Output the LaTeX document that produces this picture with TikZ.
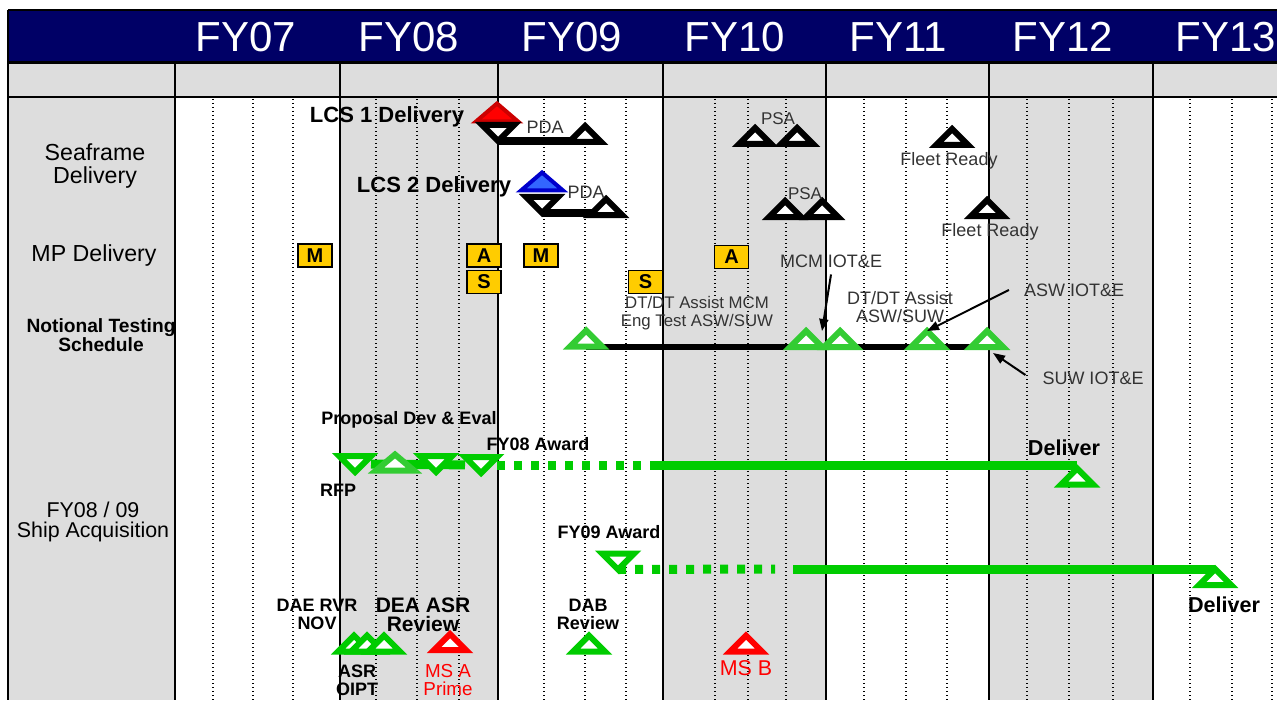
\documentclass[tikz,border=0pt]{standalone}
\usepackage{fontspec}
\setmainfont{Liberation Sans}
\usetikzlibrary{arrows.meta, backgrounds}
\definecolor{navy}{HTML}{000066}
\definecolor{panel}{HTML}{DDDDDD}
\definecolor{gold}{HTML}{FFCC00}
\definecolor{grn}{HTML}{00CC00}
\definecolor{hgrn}{HTML}{33CC33}
\definecolor{rot}{HTML}{FF0000}
\definecolor{drot}{HTML}{CC0000}
\definecolor{blau}{HTML}{3366FF}
\definecolor{dblau}{HTML}{0000CC}
\pgfdeclarelayer{background}
\pgfdeclarelayer{bars}
\pgfsetlayers{background,bars,main}
\newcommand{\fsz}[2]{\fontsize{#1}{#2}\selectfont}

\begin{document}
\begin{tikzpicture}[x=0.5pt, y=-0.5pt,
    hdr/.style={text=white, font=\fsz{21}{21}},
    rowlbl/.style={align=center, font=\fsz{11.6}{11.5}},
    note/.style={align=center, text=black!80, font=\fsz{9}{9}},
    lbl/.style={align=center, font=\fsz{9}{9}\bfseries},
    mp/.style={draw, line width=0.8pt, fill=gold, minimum width=17pt,
               minimum height=11.5pt, inner sep=0pt, font=\fsz{10}{10}\bfseries},
    triup/.style={minimum width=16pt, minimum height=8pt, inner sep=0pt, outer sep=0pt,
      append after command={\pgfextra{\let\trinode\tikzlastnode
        \draw[line width=3pt, fill=white, #1] (\trinode.south west)
          -- (\trinode.north) -- (\trinode.south east) -- cycle;}}},
    triup/.default={draw=black},
    tridn/.style={minimum width=16pt, minimum height=8pt, inner sep=0pt, outer sep=0pt,
      append after command={\pgfextra{\let\trinode\tikzlastnode
        \draw[line width=3pt, fill=white, #1] (\trinode.north west)
          -- (\trinode.south) -- (\trinode.north east) -- cycle;}}},
    tridn/.default={draw=black},
    blackbar/.style={line width=4pt},
    gline/.style={grn, line width=4.5pt},
    gdots/.style={gline, dash pattern=on 4pt off 4.5pt},
    arr/.style={-{Triangle[length=6pt, width=4.5pt]}, line width=1pt}
  ]
  \useasboundingbox (0,0) rectangle (1277,700);

  % grid
  \begin{pgfonlayer}{background}
    \fill[navy] (8,10) rectangle (1277,62);
    \fill[panel] (8,62) rectangle (1277,97);
    \fill[panel] (8,97) rectangle (175,700);
    \foreach \a/\b in {340/498, 663/826, 989/1153}
      \fill[panel] (\a,97) rectangle (\b,700);
    \foreach \x in {213,253,293,376,417,459,544,585,626,715,748,786,
                    864,906,947,1027,1069,1113,1190,1232,1272}
      \draw[line width=0.7pt, dash pattern=on 0.7pt off 1.3pt] (\x,99) -- (\x,700);
    \foreach \x in {175,340,498,663,826,989,1153}
      \draw[line width=1.2pt] (\x,63) -- (\x,700);
    \draw[line width=1.2pt] (8,62.5) -- (1277,62.5) (8,97) -- (1277,97);
    \draw[line width=0.8pt] (8,10) -- (1277,10) (8,10) -- (8,700);
  \end{pgfonlayer}

  \foreach \x/\yr in {246/07, 409/08, 572/09, 735/10, 898/11, 1063/12, 1226/13}
    \node[hdr] (fy\yr) at (\x,37) {FY\yr};

  \node[rowlbl] (seaframe) at (95,166) {Seaframe\\Delivery};
  \node[rowlbl] (mpdel) at (94,256) {MP Delivery};
  \node[align=center, font=\fsz{9.6}{9.5}\bfseries] (testing) at (101,335)
    {Notional Testing\\Schedule};
  \node[align=center, font=\fsz{10.7}{10}] (shipacq) at (93,522)
    {FY08 / 09\\Ship Acquisition};

  % seaframe delivery
  \node[font=\fsz{11}{11}\bfseries] (lcs1txt) at (387,117) {LCS 1 Delivery};
  \node[triup={draw=drot, fill=rot, line width=2pt}, minimum width=21pt,
        minimum height=9pt] (lcs1) at (497,112.5) {};
  \node[tridn] (dn1) at (498,133) {};
  \node[triup] (pda1) at (585,134) {};
  \node[note] (pda1txt) at (545,127) {PDA};
  \node[font=\fsz{11}{11}\bfseries] (lcs2txt) at (434,187) {LCS 2 Delivery};
  \node[triup={draw=dblau, fill=blau, line width=2pt}, minimum width=21pt,
        minimum height=9pt] (lcs2) at (542,181.5) {};
  \node[tridn] (dn2) at (542,205) {};
  \node[triup] (pda2) at (606,207) {};
  \node[note] (pda2txt) at (586,192) {PDA};
  \node[triup] (psa1a) at (755,136) {};
  \node[triup] (psa1b) at (797,136) {};
  \node[note, font=\fsz{8.5}{8.5}] (psa1txt) at (778,119) {PSA};
  \node[triup] (fr1) at (952,137) {};
  \node[note] (fr1txt) at (949,161) {Fleet Ready};
  \node[triup] (psa2a) at (785,209) {};
  \node[triup] (psa2b) at (822,209) {};
  \node[note, font=\fsz{8.5}{8.5}] (psa2txt) at (805,194) {PSA};
  \node[triup] (fr2) at (987,208) {};
  \node[note] (fr2txt) at (990,232) {Fleet Ready};

  % mission packages
  \node[mp] (m1) at (315,255.5) {M};
  \node[mp] (a1) at (484,255.5) {A};
  \node[mp] (s1) at (484,282) {S};
  \node[mp] (m2) at (541,255.5) {M};
  \node[mp] (s2) at (645.5,282) {S};
  \node[mp] (a2) at (731.5,257) {A};

  % testing
  \node[triup={draw=hgrn}] (t1) at (586,338.5) {};
  \node[triup={draw=hgrn}] (t2) at (806,339) {};
  \node[triup={draw=hgrn}] (t3) at (840,339) {};
  \node[triup={draw=hgrn}] (t4) at (927,339) {};
  \node[triup={draw=hgrn}] (t5) at (987,339) {};
  \node[note, font=\fsz{8.4}{9}] (dtmcm) at (697,313) {DT/DT Assist MCM\\Eng Test ASW/SUW};
  \node[note] (mcm) at (831,261) {MCM IOT\&E};
  \node[note] (dtasw) at (900,307) {DT/DT Assist\\ASW/SUW};
  \node[note] (asw) at (1074,290) {ASW IOT\&E};
  \node[note] (suw) at (1093,378) {SUW IOT\&E};
  \draw[arr] (mcm.south) -- (t2.north east);
  \draw[arr] ([xshift=-4pt]asw.west) -- (t4.north);
  \draw[arr] ([xshift=-5pt, yshift=1.5pt]suw.west) -- ([xshift=3pt, yshift=-3pt]t5.south);

  % ship acquisition
  \node[lbl] (propdev) at (409,420) {Proposal Dev \& Eval};
  \node[lbl] (aw08txt) at (538,444) {FY08 Award};
  \node[tridn={draw=grn}] (rfp) at (355,464) {};
  \node[triup={draw=hgrn}, minimum width=19pt] (prop) at (395,462.5) {};
  \node[tridn={draw=grn}] (dev) at (436,464) {};
  \node[tridn={draw=grn}] (aw08) at (481,465) {};
  \node[lbl] (rfptxt) at (338,490) {RFP};
  \coordinate (s08) at (655,465);
  \node[triup={draw=grn}] (del08) at (1077,476.5) {};
  \node[lbl, font=\fsz{10.8}{10.8}\bfseries] (del08txt) at (1064,448) {Deliver};

  \node[lbl] (aw09txt) at (609,532) {FY09 Award};
  \node[tridn={draw=grn}] (aw09) at (618,561.5) {};
  \coordinate (e09) at (775,569);
  \coordinate (s09) at (793,569);
  \node[triup={draw=grn}] (del09) at (1215,577) {};
  \node[lbl, font=\fsz{10.8}{10.8}\bfseries] (del09txt) at (1224,605) {Deliver};

  \node[lbl] (daervr) at (317,614) {DAE RVR\\NOV};
  \node[lbl, font=\fsz{10.5}{9.5}\bfseries] (deaasr) at (423,614.5) {DEA ASR\\Review};
  \node[triup={draw=grn}] (asr1) at (354,643.5) {};
  \node[triup={draw=grn}] (asr2) at (367,643.5) {};
  \node[triup={draw=grn}] (asr3) at (384,643.5) {};
  \node[lbl] (asrtxt) at (357,680) {ASR\\OIPT};
  \node[triup={draw=rot}] (msa) at (450,642) {};
  \node[note, text=rot, font=\fsz{9.4}{9}] (msatxt) at (448,680) {MS A\\Prime};
  \node[lbl] (dabtxt) at (588,614) {DAB\\Review};
  \node[triup={draw=grn}] (dab) at (589,643.5) {};
  \node[triup={draw=rot}] (msb) at (746,643.5) {};
  \node[note, text=rot, font=\fsz{10.7}{10.7}] (msbtxt) at (746,668) {MS B};

  \begin{pgfonlayer}{bars}
    \draw[blackbar] (dn1.south) -- (dn1.south -| pda1);
    \draw[blackbar] (dn2.south) -- (dn2.south -| pda2);
    \draw[line width=3pt] (t1.south) -- (t1.south -| t5);
    \draw[gline] (rfp) -- (aw08);
    \draw[gdots] (aw08) -- (s08);
    \draw[gline] (s08) -- (s08 -| del08);
    \draw[gdots] (aw09.south) -- (e09);
    \draw[gline] (s09) -- (s09 -| del09);
  \end{pgfonlayer}
\end{tikzpicture}
\end{document}
